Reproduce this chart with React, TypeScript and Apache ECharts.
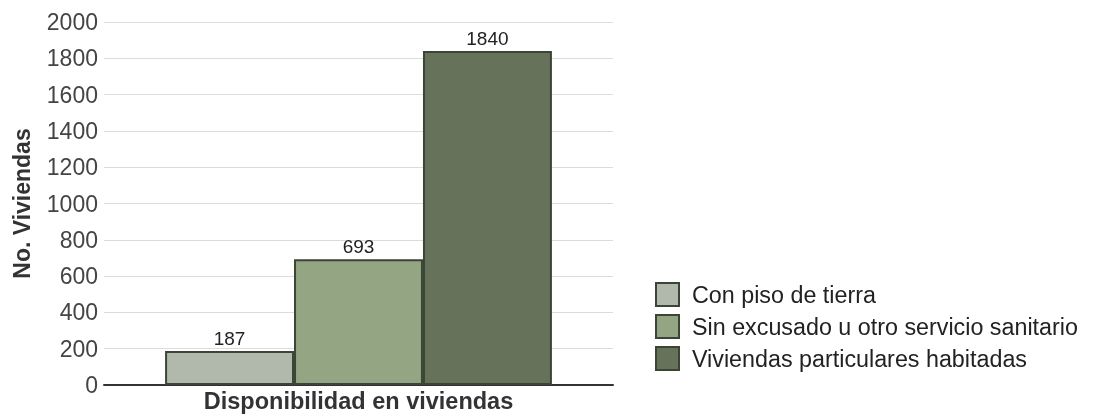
import React, { useEffect, useRef } from "react";
import * as echarts from "echarts";

const categories = ["Disponibilidad en viviendas"];
const seriesNames = [
  "Con piso de tierra",
  "Sin excusado u otro servicio sanitario",
  "Viviendas particulares habitadas",
];
const seriesValues = [187, 693, 1840];
const seriesColors = ["#b1b8ac", "#93a583", "#66735a"];
const yTicks = { min: 0, max: 2000, interval: 200 };

const FONT = "'Liberation Sans', Arial, sans-serif";

export default function App() {
  const ref = useRef<HTMLDivElement>(null);
  useEffect(() => {
    if (!ref.current) return;
    const chart = echarts.init(ref.current, undefined, { renderer: "svg" });
    chart.setOption({
      animation: false,
      textStyle: { fontFamily: FONT },
      grid: { left: 104, right: 485, top: 22, bottom: 29 },
      legend: {
        orient: "vertical",
        left: 650,
        top: 277,
        itemWidth: 23,
        itemHeight: 23,
        itemGap: 7,
        icon: "rect",
        textStyle: { fontSize: 23.3, color: "#222", fontFamily: FONT, padding: [0, 0, 0, 8] },
        data: seriesNames,
      },
      xAxis: {
        type: "category",
        data: categories,
        axisLine: { lineStyle: { color: "#333", width: 2 } },
        axisTick: { show: false },
        axisLabel: {
          fontSize: 23.5,
          fontWeight: "bold",
          color: "#333",
          margin: 4,
          fontFamily: FONT,
        },
      },
      yAxis: {
        type: "value",
        min: yTicks.min,
        max: yTicks.max,
        interval: yTicks.interval,
        name: "No. Viviendas",
        nameLocation: "middle",
        nameGap: 71,
        nameTextStyle: { fontSize: 23, fontWeight: "bold", color: "#333", fontFamily: FONT },
        axisLine: { show: false },
        axisTick: { show: false },
        axisLabel: {
          fontSize: 23,
          color: "#444",
          margin: 6,
          fontFamily: FONT,
          formatter: (v: number) => String(v),
        },
        splitLine: { lineStyle: { color: "#dcdcdc", width: 1 } },
      },
      series: seriesNames.map((name, i) => ({
        name,
        type: "bar",
        data: [seriesValues[i]],
        barGap: "0%",
        barCategoryGap: "24%",
        itemStyle: { color: seriesColors[i], borderColor: "#3b4535", borderWidth: 2 },
        label: {
          show: true,
          position: "top",
          distance: 3,
          fontSize: 19,
          color: "#222",
          fontFamily: FONT,
        },
      })),
    });
    return () => chart.dispose();
  }, []);
  return (
    <div
      ref={ref}
      style={{ position: "fixed", left: 0, top: 0, width: 1098, height: 414 }}
    />
  );
}
